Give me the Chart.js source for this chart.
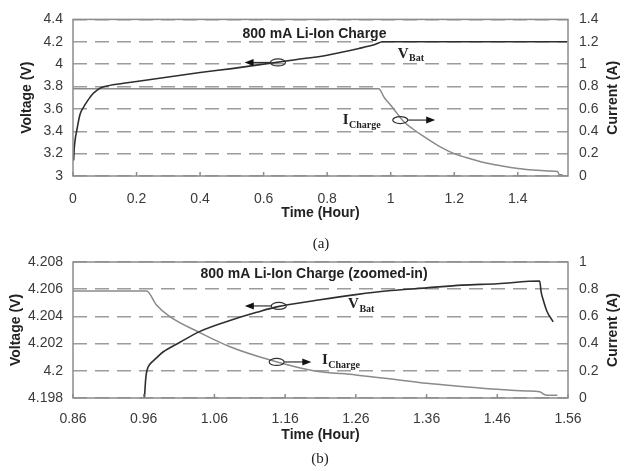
<!DOCTYPE html>
<html>
<head>
<meta charset="utf-8">
<script src="https://cdn.jsdelivr.net/npm/chart.js@4.4.1/dist/chart.umd.min.js"></script>
<style>
  body { margin: 0; background: #fff; }
  #wrap { position: relative; width: 640px; height: 471px; overflow: hidden; }
  canvas { position: absolute; left: 0; }
  #c1 { top: 0; }
  #c2 { top: 240px; }
  .cap { position: absolute; width: 40px; text-align: center; font: 15px "Liberation Serif", "DejaVu Serif", serif; color: #222; line-height: 16px; }
</style>
</head>
<body>
<div id="wrap">
  <canvas id="c1" width="640" height="240"></canvas>
  <canvas id="c2" width="640" height="231"></canvas>
  <div class="cap" style="left:301px; top:235px;">(a)</div>
  <div class="cap" style="left:300px; top:450px;">(b)</div>
</div>
<script>
// (a) full charge
const topTimeTicks = [0, 0.2, 0.4, 0.6, 0.8, 1, 1.2, 1.4];
const topVoltTicks = [3, 3.2, 3.4, 3.6, 3.8, 4, 4.2, 4.4];
const topCurrTicks = [0, 0.2, 0.4, 0.6, 0.8, 1, 1.2, 1.4];

const topVTime = [0.002, 0.004, 0.007, 0.012, 0.022, 0.032, 0.043, 0.054, 0.064, 0.075, 0.085, 0.1, 0.15, 0.2, 0.3, 0.4, 0.5, 0.6, 0.7, 0.8, 0.9, 0.95, 0.975, 1.2, 1.4, 1.555];
const topVolt = [3.14, 3.25, 3.33, 3.41, 3.55, 3.61, 3.66, 3.705, 3.74, 3.765, 3.785, 3.8, 3.825, 3.845, 3.885, 3.925, 3.96, 4.0, 4.04, 4.08, 4.14, 4.175, 4.2, 4.2, 4.2, 4.2];

const topITime = [0, 0.962, 0.98, 1.0, 1.02, 1.04, 1.07, 1.1, 1.15, 1.2, 1.25, 1.3, 1.35, 1.4, 1.45, 1.5, 1.525, 1.53, 1.541];
const topCurr = [0.78, 0.78, 0.7, 0.633, 0.56, 0.49, 0.42, 0.36, 0.27, 0.2, 0.155, 0.117, 0.09, 0.068, 0.054, 0.044, 0.04, 0.015, 0.01];

// (b) zoomed-in
const botTimeTicks = [0.86, 0.96, 1.06, 1.16, 1.26, 1.36, 1.46, 1.56];
const botVoltTicks = [4.198, 4.2, 4.202, 4.204, 4.206, 4.208];
const botCurrTicks = [0, 0.2, 0.4, 0.6, 0.8, 1];

const botVTime = [0.961, 0.963, 0.965, 0.969, 0.975, 0.9877, 1.0113, 1.0396, 1.082, 1.1198, 1.148, 1.207, 1.26, 1.31, 1.36, 1.41, 1.46, 1.52, 1.522, 1.525, 1.53, 1.539];
const botVolt = [4.198, 4.1995, 4.2001, 4.2005, 4.2008, 4.2014, 4.2021, 4.2029, 4.2037, 4.2043, 4.2047, 4.2052, 4.2056, 4.2059, 4.2061, 4.2063, 4.2064, 4.2066, 4.2058, 4.2052, 4.2044, 4.2036];

const botITime = [0.86, 0.964, 0.978, 0.997, 1.0396, 1.082, 1.139, 1.2, 1.26, 1.31, 1.36, 1.41, 1.46, 1.5, 1.52, 1.525, 1.53, 1.545];
const botCurr = [0.787, 0.787, 0.684, 0.598, 0.48, 0.377, 0.279, 0.2, 0.17, 0.14, 0.108, 0.085, 0.064, 0.052, 0.046, 0.03, 0.02, 0.02];

const SANS = '"Liberation Sans", Arial, sans-serif';
const SERIF = '"Liberation Serif", "Times New Roman", serif';

const pts = (xs, ys) => xs.map((x, i) => ({ x: x, y: ys[i] }));

// frame, inner ticks, titles, arrows and curve labels
const deco = {
  id: "deco",
  afterDatasetsDraw(chart, args, o) {
    const { ctx, chartArea: a, scales } = chart;
    const sx = scales.x;
    ctx.save();

    ctx.strokeStyle = "#8c8c8c";
    ctx.lineWidth = 1.5;
    ctx.strokeRect(a.left, a.top, a.right - a.left, a.bottom - a.top);
    sx.ticks.forEach((t) => {
      const px = sx.getPixelForValue(t.value);
      ctx.beginPath();
      ctx.moveTo(px, a.bottom);
      ctx.lineTo(px, a.bottom - 4);
      ctx.stroke();
    });

    ctx.fillStyle = "#222";
    ctx.textAlign = "center";
    ctx.textBaseline = "middle";
    ctx.font = "bold 14px " + SANS;
    ctx.fillText(o.title, sx.getPixelForValue(o.titleX), a.top + o.titleDy);
    ctx.fillText("Time (Hour)", (a.left + a.right) / 2, o.xTitleY);

    const midY = (a.top + a.bottom) / 2;
    [["Voltage (V)", o.leftTitleX], ["Current (A)", o.rightTitleX]].forEach(([txt, px]) => {
      ctx.save();
      ctx.translate(px, midY);
      ctx.rotate(-Math.PI / 2);
      ctx.fillText(txt, 0, 0);
      ctx.restore();
    });

    o.marks.forEach((m) => {
      const sy = scales[m.axis];
      const cx = sx.getPixelForValue(m.x);
      const cy = sy.getPixelForValue(m.y);
      const tip = sx.getPixelForValue(m.tip);
      const rx = 7.5, ry = 3.5;
      const dir = tip < cx ? -1 : 1;
      ctx.strokeStyle = "#333";
      ctx.lineWidth = 1.2;
      ctx.beginPath();
      ctx.ellipse(cx, cy, rx, ry, 0, 0, Math.PI * 2);
      ctx.stroke();
      ctx.beginPath();
      ctx.moveTo(cx + dir * rx, cy);
      ctx.lineTo(tip - dir * 6, cy);
      ctx.stroke();
      ctx.fillStyle = "#111";
      ctx.beginPath();
      ctx.moveTo(tip, cy);
      ctx.lineTo(tip - dir * 9, cy - 3.5);
      ctx.lineTo(tip - dir * 9, cy + 3.5);
      ctx.closePath();
      ctx.fill();
    });

    ctx.fillStyle = "#222";
    ctx.textAlign = "left";
    o.labels.forEach((l) => {
      const px = sx.getPixelForValue(l.x);
      const py = scales[l.axis].getPixelForValue(l.y);
      ctx.font = "bold 15px " + SERIF;
      ctx.fillText(l.main, px, py);
      const w = ctx.measureText(l.main).width;
      ctx.font = "bold 10px " + SERIF;
      ctx.fillText(l.sub, px + w + 0.5, py + 5);
    });

    ctx.restore();
  },
};

function makeChart(id, cfg) {
  const tickFont = { family: SANS, size: 14 };
  return new Chart(document.getElementById(id), {
    type: "line",
    data: {
      datasets: [
        { data: pts(cfg.vTime, cfg.volt), yAxisID: "y", borderColor: "#2e2e2e", borderWidth: 1.6 },
        { data: pts(cfg.iTime, cfg.curr), yAxisID: "y1", borderColor: "#8a8a8a", borderWidth: 1.5 },
      ],
    },
    options: {
      responsive: false,
      animation: false,
      elements: { point: { radius: 0 }, line: { cubicInterpolationMode: "monotone" } },
      layout: { padding: { top: cfg.top, left: 0, right: 0, bottom: 0 } },
      plugins: {
        legend: { display: false },
        tooltip: { enabled: false },
        deco: cfg.deco,
      },
      scales: {
        x: {
          type: "linear",
          min: cfg.xMin,
          max: cfg.xMax,
          afterBuildTicks: (s) => { s.ticks = cfg.xTicks.map((v) => ({ value: v })); },
          afterFit: (s) => { s.height = cfg.xHeight; },
          ticks: { font: tickFont, color: "#3a3a3a", padding: cfg.xPad, maxRotation: 0, autoSkip: false, callback: (v) => String(v) },
          grid: { display: false, drawTicks: false },
          border: { display: false },
        },
        y: {
          position: "left",
          min: cfg.vTicks[0],
          max: cfg.vTicks[cfg.vTicks.length - 1],
          afterBuildTicks: (s) => { s.ticks = cfg.vTicks.map((v) => ({ value: v })); },
          afterFit: (s) => { s.width = 73; },
          ticks: { font: tickFont, color: "#3a3a3a", padding: 10, callback: (v) => String(v) },
          grid: { color: "#9c9c9c", lineWidth: 1.5, drawTicks: false },
          border: { display: false, dash: [14, 8] },
        },
        y1: {
          position: "right",
          min: cfg.iTicks[0],
          max: cfg.iTicks[cfg.iTicks.length - 1],
          afterBuildTicks: (s) => { s.ticks = cfg.iTicks.map((v) => ({ value: v })); },
          afterFit: (s) => { s.width = 72; },
          ticks: { font: tickFont, color: "#3a3a3a", padding: 11, callback: (v) => String(v) },
          grid: { display: false, drawTicks: false },
          border: { display: false },
        },
      },
    },
    plugins: [deco],
  });
}

makeChart("c1", {
  vTime: topVTime, volt: topVolt, iTime: topITime, curr: topCurr,
  xTicks: topTimeTicks, vTicks: topVoltTicks, iTicks: topCurrTicks,
  xMin: 0, xMax: 1.558, top: 8, xHeight: 64, xPad: 15,
  deco: {
    title: "800 mA Li-Ion Charge", titleX: 0.76, titleDy: 15,
    xTitleY: 213, leftTitleX: 27, rightTitleX: 613,
    marks: [
      { axis: "y", x: 0.645, y: 4.015, tip: 0.54 },
      { axis: "y1", x: 1.03, y: 0.5, tip: 1.14 },
    ],
    labels: [
      { axis: "y", x: 1.022, y: 4.093, main: "V", sub: "Bat" },
      { axis: "y1", x: 0.849, y: 0.5, main: "I", sub: "Charge" },
    ],
  },
});

makeChart("c2", {
  vTime: botVTime, volt: botVolt, iTime: botITime, curr: botCurr,
  xTicks: botTimeTicks, vTicks: botVoltTicks, iTicks: botCurrTicks,
  xMin: 0.86, xMax: 1.56, top: 22, xHeight: 73, xPad: 13,
  deco: {
    title: "800 mA Li-Ion Charge (zoomed-in)", titleX: 1.2008, titleDy: 12,
    xTitleY: 195, leftTitleX: 16, rightTitleX: 613,
    marks: [
      { axis: "y", x: 1.151, y: 4.20477, tip: 1.103 },
      { axis: "y1", x: 1.148, y: 0.265, tip: 1.197 },
    ],
    labels: [
      { axis: "y", x: 1.249, y: 4.20491, main: "V", sub: "Bat" },
      { axis: "y1", x: 1.212, y: 0.279, main: "I", sub: "Charge" },
    ],
  },
});
</script>
</body>
</html>
